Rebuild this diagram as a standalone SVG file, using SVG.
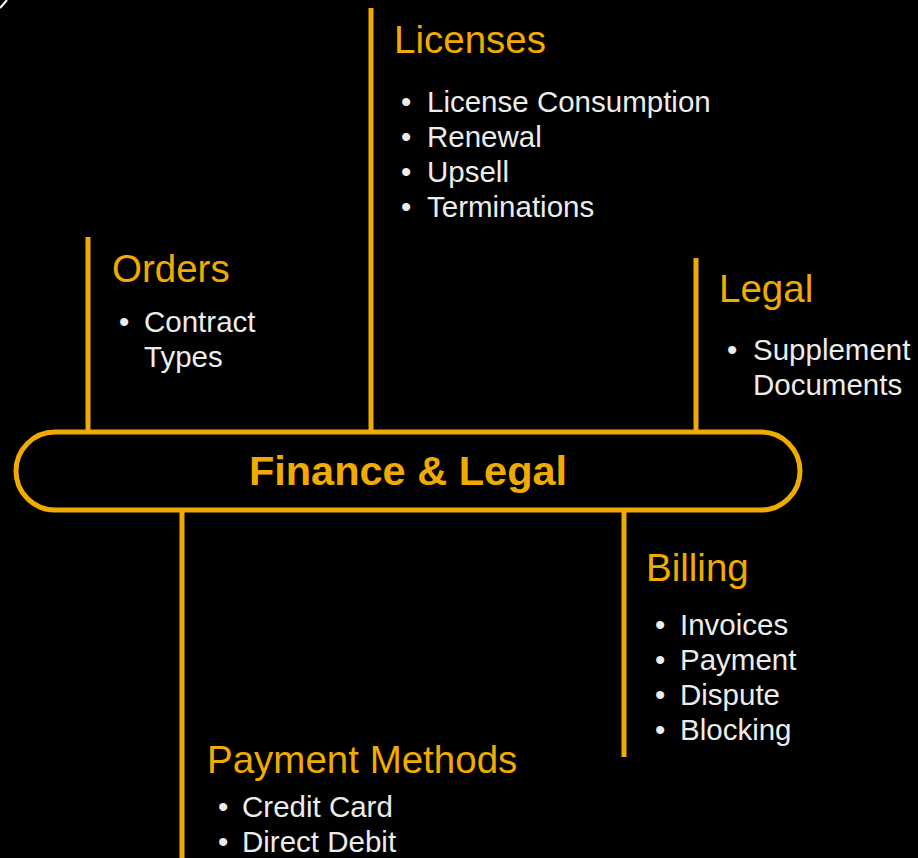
<svg xmlns="http://www.w3.org/2000/svg" width="918" height="858" viewBox="0 0 918 858">
<style>
.t{font-family:"Liberation Sans",Arial,sans-serif;font-size:38.5px;fill:#f0ab00}
.b{font-family:"Liberation Sans",Arial,sans-serif;font-size:29.5px;fill:#ececec}
.c{font-family:"Liberation Sans",Arial,sans-serif;font-size:41.5px;font-weight:bold;fill:#f0ab00}
.ln{stroke:#f0ab00;stroke-width:5;fill:none}
</style>
<rect width="918" height="858" fill="#000"/>
<line x1="0" y1="8" x2="7" y2="0" stroke="#fff" stroke-width="2"/>
<g id="connectors">
<line class="ln" x1="88" y1="237" x2="88" y2="431"/>
<line class="ln" x1="371" y1="8" x2="371" y2="431"/>
<line class="ln" x1="696" y1="258" x2="696" y2="431"/>
<line class="ln" x1="182" y1="510" x2="182" y2="858"/>
<line class="ln" x1="624" y1="510" x2="624" y2="757"/>
</g>
<g id="finance-legal">
<rect x="16" y="432" width="784" height="78" rx="39" ry="39" class="ln" stroke-width="4.5"/>
<text class="c" x="408" y="485" text-anchor="middle">Finance &amp; Legal</text>
</g>
<g id="licenses">
<text class="t" x="394" y="53">Licenses</text>
<text class="b" x="401" y="112">•</text><text class="b" x="427" y="112">License Consumption</text>
<text class="b" x="401" y="147">•</text><text class="b" x="427" y="147">Renewal</text>
<text class="b" x="401" y="182">•</text><text class="b" x="427" y="182">Upsell</text>
<text class="b" x="401" y="217">•</text><text class="b" x="427" y="217">Terminations</text>
</g>
<g id="orders">
<text class="t" x="112" y="282">Orders</text>
<text class="b" x="119" y="332">•</text><text class="b" x="144" y="332">Contract</text>
<text class="b" x="144" y="367">Types</text>
</g>
<g id="legal">
<text class="t" x="719" y="302">Legal</text>
<text class="b" x="727" y="360">•</text><text class="b" x="753" y="360">Supplement</text>
<text class="b" x="753" y="395">Documents</text>
</g>
<g id="billing">
<text class="t" x="646" y="581">Billing</text>
<text class="b" x="655" y="635">•</text><text class="b" x="680" y="635">Invoices</text>
<text class="b" x="655" y="670">•</text><text class="b" x="680" y="670">Payment</text>
<text class="b" x="655" y="705">•</text><text class="b" x="680" y="705">Dispute</text>
<text class="b" x="655" y="740">•</text><text class="b" x="680" y="740">Blocking</text>
</g>
<g id="payment-methods">
<text class="t" x="207" y="773">Payment Methods</text>
<text class="b" x="218" y="817">•</text><text class="b" x="242" y="817">Credit Card</text>
<text class="b" x="218" y="852">•</text><text class="b" x="242" y="852">Direct Debit</text>
</g>
</svg>
